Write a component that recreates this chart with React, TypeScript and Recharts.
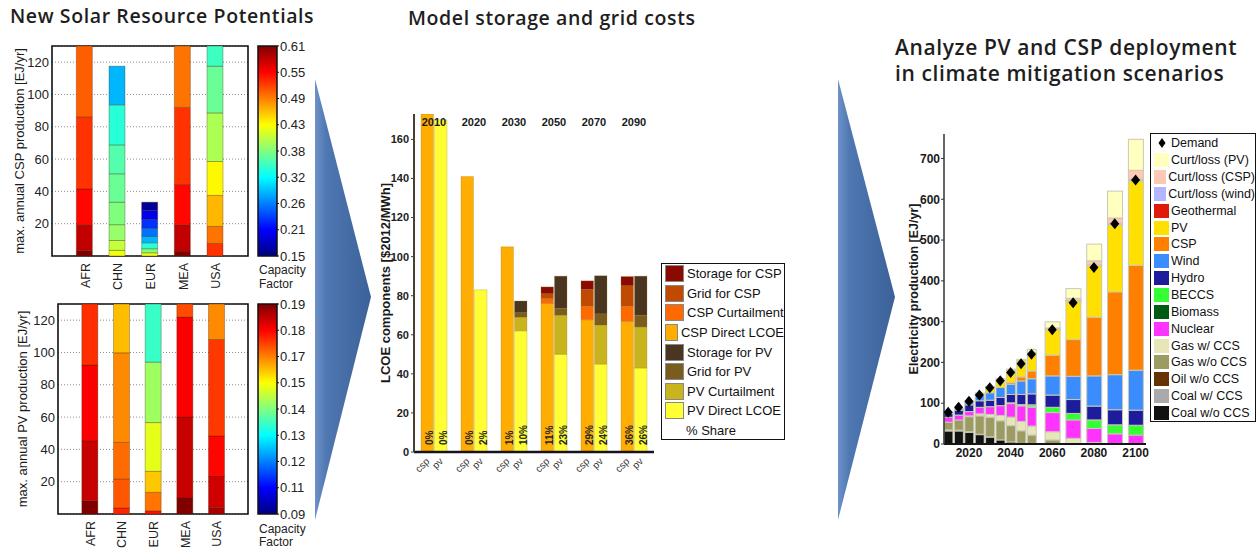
import React from "react";
import {
  BarChart, Bar, XAxis, YAxis, CartesianGrid, Cell, ReferenceArea, ReferenceDot,
  ComposedChart, Line, LabelList,
} from "recharts";

const FONT = "'Liberation Sans', Arial, sans-serif";
const TITLE_FONT = "'Open Sans', 'Noto Sans', sans-serif";

// ---------- left: new solar resource potentials ----------
const REGIONS = ["AFR", "CHN", "EUR", "MEA", "USA"];

// stacked potential per region, bottom -> top [EJ/yr], and the capacity factor of each step
const CSP_STEPS = [
  [3.5, 16, 22, 44.7, 43.8],
  [3.5, 6.1, 9.8, 13.9, 17.6, 17.9, 24.8, 23.9],
  [2, 2.5, 3.7, 3.9, 5.1, 5.4, 5.6, 5.1],
  [3, 16.4, 24.9, 47.7, 38],
  [7.8, 10.5, 19.2, 21, 30.1, 28.9, 12.5],
];
const CSP_CF = [
  [0.61, 0.58, 0.55, 0.53, 0.51],
  [0.43, 0.41, 0.39, 0.38, 0.37, 0.36, 0.34, 0.29],
  [0.43, 0.38, 0.34, 0.29, 0.26, 0.23, 0.2, 0.16],
  [0.61, 0.58, 0.55, 0.53, 0.5],
  [0.53, 0.5, 0.47, 0.44, 0.4, 0.37, 0.35],
];
const CSP_CB_LABELS = ["0.15", "0.21", "0.26", "0.32", "0.38", "0.43", "0.49", "0.55", "0.61"];

const PV_STEPS = [
  [8.2, 37, 47, 37.8],
  [3.7, 17.9, 22.7, 55.5, 30.2],
  [2, 11.4, 13, 30.2, 37.4, 36],
  [9.9, 50.1, 62, 8],
  [4.1, 19.5, 24.7, 59.7, 22],
];
const PV_CF = [
  [0.19, 0.183, 0.178, 0.173],
  [0.174, 0.169, 0.167, 0.164, 0.159],
  [0.176, 0.166, 0.158, 0.15, 0.143, 0.133],
  [0.19, 0.183, 0.178, 0.17],
  [0.186, 0.182, 0.177, 0.172, 0.164],
];
const PV_CB_LABELS = ["0.09", "0.11", "0.12", "0.13", "0.14", "0.15", "0.17", "0.18", "0.19"];
const POT_TICKS = [20, 40, 60, 80, 100, 120];

// ---------- middle: LCOE components ----------
const LCOE_YEARS = ["2010", "2020", "2030", "2050", "2070", "2090"];
const CSP_DIRECT = [180, 141, 105, 76, 67.7, 66.8];
const CSP_CURT = [0, 0, 0, 2.5, 6.9, 7.8];
const CSP_GRID = [0, 0, 0, 2.5, 8.6, 10.5];
const CSP_STORAGE = [0, 0, 0, 3.5, 4.4, 4.7];
const PV_DIRECT = [170, 83, 62, 50, 45, 43];
const PV_CURT = [0, 0, 7, 20, 20, 21];
const PV_GRID = [0, 0, 2.3, 3.5, 5.7, 6];
const PV_STORAGE = [0, 0, 6, 16.5, 19.5, 20];
const CSP_SHARE = ["0%", "0%", "1%", "11%", "29%", "36%"];
const PV_SHARE = ["0%", "2%", "10%", "23%", "24%", "26%"];
const LCOE_TICKS = [0, 20, 40, 60, 80, 100, 120, 140, 160];
const LCOE_MAX = 173;

// ---------- right: electricity production ----------
const GEN_YEARS = [2010, 2015, 2020, 2025, 2030, 2035, 2040, 2045, 2050, 2060, 2070, 2080, 2090, 2100];
const COAL_NO_CCS = [32, 32, 28.5, 23, 17, 10, 5, 1.5, 0, 0, 0, 0, 0, 0];
const COAL_CCS = [0, 0, 0, 0, 0, 0, 0, 0, 0, 0, 0, 0, 0, 0];
const OIL_NO_CCS = [2.5, 2, 1.5, 1, 0.5, 0, 0, 0, 0, 0, 0, 0, 0, 0];
const GAS_NO_CCS = [19, 25, 37, 45, 48, 47, 40, 31, 22, 10, 0, 0, 0, 0];
const GAS_CCS = [0, 0, 2, 5, 7, 13, 21, 23, 22, 20, 14, 4, 0, 0];
const NUCLEAR = [12, 12, 10.5, 16, 19, 24, 33, 38, 46, 47, 45, 34, 25, 22];
const BIOMASS = [0, 0, 0, 0, 0, 0, 1, 1, 1, 0, 0, 0, 0, 0];
const BECCS = [0, 0, 0, 0, 0, 0, 1, 2, 5, 13, 16, 21, 22, 24];
const HYDRO = [10, 12, 16.5, 16, 16, 20, 20.5, 25, 27, 30, 34, 34, 37, 37];
const WIND = [3, 4, 8, 13, 18, 24.5, 25, 33, 37, 47, 57, 74, 86, 98];
const CSP = [0, 0, 0, 0, 0, 0, 4, 10, 19, 51, 90, 144, 203, 257];
const PV = [0, 0, 1, 6, 13, 18, 29, 40, 45, 62, 94, 126, 164, 207];
const GEOTHERMAL = [0, 0, 0, 0, 0, 0, 0, 0, 0, 0, 0, 0, 0, 0];
const CURT_WIND = [0, 0, 0, 0, 0, 0, 0, 0, 0, 1.5, 2, 2, 3, 4];
const CURT_CSP = [0, 0, 0, 0, 0, 0, 0, 0, 0, 3, 5, 10, 14, 22];
const CURT_PV = [0, 0, 0, 0, 3, 4, 4, 3, 8, 15, 24, 41, 66, 76];
const DEMAND = [78, 90, 105, 120, 138, 155, 175, 197, 220, 280, 346, 433, 540, 647];
const GEN_TICKS_X = [2020, 2040, 2060, 2080, 2100];
const GEN_TICKS_Y = [0, 100, 200, 300, 400, 500, 600, 700];

const GEN_SERIES = [
  { key: "coalNo", name: "Coal w/o CCS", values: COAL_NO_CCS, color: "#111111" },
  { key: "coalCcs", name: "Coal w/ CCS", values: COAL_CCS, color: "#aaaaaa" },
  { key: "oil", name: "Oil w/o CCS", values: OIL_NO_CCS, color: "#663300" },
  { key: "gasNo", name: "Gas w/o CCS", values: GAS_NO_CCS, color: "#9c9c62" },
  { key: "gasCcs", name: "Gas w/ CCS", values: GAS_CCS, color: "#e6e6b8" },
  { key: "nuclear", name: "Nuclear", values: NUCLEAR, color: "#ff33ff" },
  { key: "biomass", name: "Biomass", values: BIOMASS, color: "#005a12" },
  { key: "beccs", name: "BECCS", values: BECCS, color: "#33ff33" },
  { key: "hydro", name: "Hydro", values: HYDRO, color: "#1c1c9c" },
  { key: "wind", name: "Wind", values: WIND, color: "#3a8cff" },
  { key: "csp", name: "CSP", values: CSP, color: "#ff8000" },
  { key: "pv", name: "PV", values: PV, color: "#ffe000" },
  { key: "geo", name: "Geothermal", values: GEOTHERMAL, color: "#e01a0a" },
  { key: "curtWind", name: "Curt/loss (wind)", values: CURT_WIND, color: "#b4b4ff" },
  { key: "curtCsp", name: "Curt/loss (CSP)", values: CURT_CSP, color: "#ffc8b4" },
  { key: "curtPv", name: "Curt/loss (PV)", values: CURT_PV, color: "#ffffc0" },
];

const LCOE_SERIES = [
  { key: "cspDirect", name: "CSP Direct LCOE", stack: "csp", color: "#ffad00" },
  { key: "cspCurt", name: "CSP Curtailment", stack: "csp", color: "#ff6a00" },
  { key: "cspGrid", name: "Grid for CSP", stack: "csp", color: "#c04a00" },
  { key: "cspStorage", name: "Storage for CSP", stack: "csp", color: "#8b0a00" },
  { key: "pvDirect", name: "PV Direct LCOE", stack: "pv", color: "#ffff33" },
  { key: "pvCurt", name: "PV Curtailment", stack: "pv", color: "#c9b41e" },
  { key: "pvGrid", name: "Grid for PV", stack: "pv", color: "#7a5c1c" },
  { key: "pvStorage", name: "Storage for PV", stack: "pv", color: "#4a3520" },
];
// legend reads top -> bottom: csp block then pv block, each from storage down to direct
const LCOE_LEGEND = [...LCOE_SERIES.slice(0, 4).reverse(), ...LCOE_SERIES.slice(4).reverse()];

function jet(t: number) {
  const c = (v: number) => Math.round(255 * Math.max(0, Math.min(1, v)));
  return `rgb(${c(1.5 - Math.abs(4 * t - 3))},${c(1.5 - Math.abs(4 * t - 2))},${c(1.5 - Math.abs(4 * t - 1))})`;
}
const JET_STOPS = [0, 0.125, 0.375, 0.625, 0.875, 1];

function AxisTitle({ viewBox, text, shift, size, weight }: any) {
  const x = viewBox.x + shift;
  const y = viewBox.y + viewBox.height / 2;
  return (
    <text x={x} y={y} transform={`rotate(-90 ${x} ${y})`} textAnchor="middle" dominantBaseline="central"
      fontSize={size} fontWeight={weight} fill="#1a1a1a" fontFamily={FONT}>{text}</text>
  );
}

function RegionTick({ x, y, payload }: any) {
  const tx = x + 5;
  const ty = y + 7;
  return (
    <text x={tx} y={ty} transform={`rotate(-90 ${tx} ${ty})`} textAnchor="end" fontSize={12.5} fill="#222" fontFamily={FONT}>
      {REGIONS[payload.value - 1]}
    </text>
  );
}

function PotentialChart({ steps, cf, cfMin, cfMax, yLabel, yWidth, labelX }: any) {
  const nSeg = Math.max(...steps.map((s: number[]) => s.length));
  const rows = REGIONS.map((_, i) => {
    const row: any = { x: i + 1 };
    steps[i].forEach((h: number, k: number) => (row["s" + k] = h));
    return row;
  });
  const keys = Array.from({ length: nSeg }, (_, k) => k);
  return (
    <BarChart width={260} height={300} data={rows} margin={{ top: 46, right: 12, bottom: 4, left: 0 }}>
      <CartesianGrid vertical={false} stroke="#8a8a8a" strokeDasharray="1 2" />
      <XAxis type="number" dataKey="x" domain={[0, 6]} ticks={[1, 2, 3, 4, 5]} height={40}
        axisLine={false} tickLine={false} tickSize={0} tickMargin={0} tick={<RegionTick />} />
      <YAxis type="number" domain={[0, 130]} allowDataOverflow ticks={POT_TICKS} width={yWidth}
        axisLine={false} tickLine={false} tickSize={0} tickMargin={3}
        tick={{ fontSize: 13, fill: "#222", fontFamily: FONT }}
        label={<AxisTitle text={yLabel} shift={labelX} size={13} weight={400} />} />
      {keys.map((k) => (
        <Bar key={k} dataKey={"s" + k} stackId="pot" barSize={16} isAnimationActive={false}
          stroke="rgba(60,30,0,0.4)" strokeWidth={0.8}>
          {rows.map((_, i) => (
            <Cell key={i} fill={cf[i][k] != null ? jet((cf[i][k] - cfMin) / (cfMax - cfMin)) : "none"} />
          ))}
        </Bar>
      ))}
      <ReferenceArea x1={0} x2={6} y1={0} y2={130} fill="none" stroke="#111" strokeWidth={1.6} />
    </BarChart>
  );
}

function ColorBar({ labels, gradId }: any) {
  const n = labels.length - 1;
  return (
    <BarChart width={60} height={300} data={[{ k: "cb", v: n }]} margin={{ top: 46, right: 0, bottom: 44, left: 8 }}
      barCategoryGap={0}>
      <defs>
        <linearGradient id={gradId} x1="0" y1="1" x2="0" y2="0">
          {JET_STOPS.map((t) => <stop key={t} offset={t} stopColor={jet(t)} />)}
        </linearGradient>
      </defs>
      <XAxis dataKey="k" hide />
      <YAxis orientation="right" domain={[0, n]} ticks={labels.map((_: string, i: number) => i)} width={33}
        tickFormatter={(i: number) => labels[i]} axisLine={false} tickLine={{ stroke: "#111" }}
        tickSize={2} tickMargin={1} tick={{ fontSize: 13, fill: "#222", fontFamily: FONT }} />
      <Bar dataKey="v" fill={`url(#${gradId})`} stroke="#111" strokeWidth={1.5} isAnimationActive={false} />
    </BarChart>
  );
}

function CspPvTick({ x, y }: any) {
  return (
    <g fontFamily={FONT} fontSize={10} fill="#3a3a3a">
      {[["csp", -6.75], ["pv", 6.75]].map(([t, d]: any) => {
        const tx = x + d + 3;
        const ty = y + 10;
        return <text key={t} x={tx} y={ty} textAnchor="end" transform={`rotate(-45 ${tx} ${ty})`}>{t}</text>;
      })}
    </g>
  );
}

function ShareLabel(p: any) {
  const x = p.x + p.width / 2 + 6;
  const y = p.y + p.height - 7;
  return (
    <text x={x} y={y} transform={`rotate(-90 ${x} ${y})`} fontSize={10} fontWeight={700} fill="#262626" fontFamily={FONT}>
      {p.value}
    </text>
  );
}

function LcoeChart() {
  const rows = LCOE_YEARS.map((year, i) => ({
    year,
    cspDirect: CSP_DIRECT[i], cspCurt: CSP_CURT[i], cspGrid: CSP_GRID[i], cspStorage: CSP_STORAGE[i],
    pvDirect: PV_DIRECT[i], pvCurt: PV_CURT[i], pvGrid: PV_GRID[i], pvStorage: PV_STORAGE[i],
    cspShare: CSP_SHARE[i], pvShare: PV_SHARE[i],
  }));
  return (
    <BarChart width={290} height={390} data={rows} margin={{ top: 14, right: 6, bottom: 4, left: 0 }} barGap={1}>
      <XAxis dataKey="year" height={34} interval={0} axisLine={{ stroke: "#151515", strokeWidth: 2.5 }}
        tickLine={false} tickSize={0} tickMargin={0} tick={<CspPvTick />} />
      <YAxis domain={[0, LCOE_MAX]} allowDataOverflow ticks={LCOE_TICKS} width={44}
        axisLine={{ stroke: "#4a4030", strokeWidth: 2 }} tickLine={{ stroke: "#4a4030" }} tickSize={3} tickMargin={2}
        tick={{ fontSize: 11, fontWeight: 700, fill: "#222", fontFamily: FONT }}
        label={<AxisTitle text="LCOE components [$2012/MWh]" shift={15} size={13} weight={700} />} />
      {LCOE_SERIES.map((s) => (
        <Bar key={s.key} dataKey={s.key} stackId={s.stack} fill={s.color} barSize={12.5} isAnimationActive={false}
          stroke="rgba(150,120,40,0.45)" strokeWidth={0.6}>
          {s.key === "cspDirect" && <LabelList dataKey="cspShare" content={<ShareLabel />} />}
          {s.key === "pvDirect" && <LabelList dataKey="pvShare" content={<ShareLabel />} />}
        </Bar>
      ))}
      {LCOE_YEARS.map((year) => (
        <ReferenceDot key={year} x={year} y={LCOE_MAX} r={0} stroke="none" fill="none"
          label={{ value: year, position: "bottom", offset: 4, fontSize: 11, fontWeight: 700, fill: "#1a1a1a",
            fontFamily: FONT }} />
      ))}
    </BarChart>
  );
}

function GenBar(p: any) {
  const { x, y, width, height, fill, payload } = p;
  if (!height || height <= 0) return <g />;
  const w = payload.year >= 2060 ? 15 : width;
  return <rect x={x + width / 2 - w / 2} y={y} width={w} height={height} fill={fill} stroke="#c9c9b5" strokeWidth={1} />;
}

function Diamond({ cx, cy }: any) {
  if (cx == null || cy == null) return <g />;
  return <path d={`M${cx},${cy - 5.5}L${cx + 4.5},${cy}L${cx},${cy + 5.5}L${cx - 4.5},${cy}Z`} fill="#000" />;
}

function GenerationChart() {
  const rows = GEN_YEARS.map((year, i) => {
    const r: any = { year, demand: DEMAND[i] };
    GEN_SERIES.forEach((s) => (r[s.key] = s.values[i]));
    return r;
  });
  return (
    <ComposedChart width={250} height={350} data={rows} margin={{ top: 14, right: 4, bottom: 4, left: 0 }}>
      <XAxis type="number" dataKey="year" domain={[2008, 2105]} ticks={GEN_TICKS_X} height={22}
        axisLine={{ stroke: "#151515", strokeWidth: 2 }} tickLine={false} tickSize={0} tickMargin={4}
        tick={{ fontSize: 12, fontWeight: 700, fill: "#1a1a1a", fontFamily: FONT }} />
      <YAxis domain={[0, 760]} allowDataOverflow ticks={GEN_TICKS_Y} width={44}
        axisLine={{ stroke: "#333", strokeWidth: 1.5 }} tickLine={{ stroke: "#333" }} tickSize={3} tickMargin={1}
        tick={{ fontSize: 12, fontWeight: 700, fill: "#1a1a1a", fontFamily: FONT }}
        label={<AxisTitle text="Electricity production [EJ/yr]" shift={14} size={12.5} weight={700} />} />
      {GEN_SERIES.map((s) => (
        <Bar key={s.key} dataKey={s.key} stackId="gen" fill={s.color} barSize={9} shape={<GenBar />}
          isAnimationActive={false} />
      ))}
      <Line dataKey="demand" stroke="none" dot={<Diamond />} activeDot={false} isAnimationActive={false} />
    </ComposedChart>
  );
}

const abs = (left: number, top: number): React.CSSProperties => ({ position: "absolute", left, top });

function Title({ left, top, size = 19.5, children }: any) {
  return (
    <div style={{ ...abs(left, top), fontFamily: TITLE_FONT, fontWeight: 600, fontSize: size, lineHeight: "20px",
      letterSpacing: 0.6, color: "#1e1e1e", whiteSpace: "nowrap" }}>{children}</div>
  );
}

function SmallText({ left, top, children }: any) {
  return <div style={{ ...abs(left, top), fontSize: 12, lineHeight: "14px", color: "#222", whiteSpace: "nowrap" }}>{children}</div>;
}

export default function App() {
  return (
    <div style={{ position: "absolute", left: 0, top: 0, width: 1258, height: 548, background: "#fff",
      overflow: "hidden", fontFamily: FONT }}>
      <svg width={1258} height={548} style={abs(0, 0)}>
        <defs>
          <linearGradient id="arrowBlue" x1="0" y1="0" x2="1" y2="0">
            <stop offset="0" stopColor="#6d92c8" />
            <stop offset="0.2" stopColor="#4f77b1" />
            <stop offset="1" stopColor="#3c6199" />
          </linearGradient>
        </defs>
        <polygon points="315,79 371,297 315,520" fill="url(#arrowBlue)" />
        <polygon points="838,79 895,297 838,520" fill="url(#arrowBlue)" />
      </svg>

      <Title left={10} top={6}>New Solar Resource Potentials</Title>
      <Title left={408} top={8}>Model storage and grid costs</Title>
      <Title left={895} top={37} size={21}>Analyze PV and CSP deployment</Title>
      <Title left={895} top={63} size={21}>in climate mitigation scenarios</Title>

      <div style={abs(0, 0)}>
        <PotentialChart steps={CSP_STEPS} cf={CSP_CF} cfMin={0.15} cfMax={0.61} yWidth={52} labelX={19}
          yLabel="max. annual CSP production [EJ/yr]" />
      </div>
      <div style={abs(250, 0)}><ColorBar labels={CSP_CB_LABELS} gradId="jetCsp" /></div>
      <SmallText left={259} top={263}>Capacity</SmallText>
      <SmallText left={259} top={277}>Factor</SmallText>

      <div style={abs(0, 258)}>
        <PotentialChart steps={PV_STEPS} cf={PV_CF} cfMin={0.09} cfMax={0.19} yWidth={58} labelX={22}
          yLabel="max. annual PV production [EJ/yr]" />
      </div>
      <div style={abs(250, 258)}><ColorBar labels={PV_CB_LABELS} gradId="jetPv" /></div>
      <SmallText left={259} top={522}>Capacity</SmallText>
      <SmallText left={259} top={535}>Factor</SmallText>

      <div style={abs(370, 100)}><LcoeChart /></div>
      <div style={{ ...abs(661, 263), width: 124, height: 177, border: "1.5px solid #111", boxSizing: "border-box",
        background: "#fff" }}>
        {LCOE_LEGEND.map((s) => (
          <div key={s.key} style={{ display: "flex", alignItems: "center", height: 19.6, marginLeft: 3 }}>
            <span style={{ width: 17, height: 15, background: s.color, border: "0.5px solid #888", marginRight: 3 }} />
            <span style={{ fontSize: 13, color: "#111", whiteSpace: "nowrap" }}>{s.name}</span>
          </div>
        ))}
        <div style={{ height: 19.6, marginLeft: 24, fontSize: 13, lineHeight: "19.6px", color: "#111" }}>% Share</div>
      </div>

      <div style={abs(900, 120)}><GenerationChart /></div>
      <div style={{ ...abs(1150, 133), width: 106, height: 289, border: "1px solid #111", boxSizing: "border-box",
        background: "#fff", paddingTop: 1 }}>
        <div style={{ display: "flex", alignItems: "center", height: 16.85 }}>
          <svg width={18} height={14} style={{ marginLeft: 2 }}>
            <path d="M9,2L12.5,7L9,12L5.5,7Z" fill="#000" />
          </svg>
          <span style={{ fontSize: 12.5, color: "#111" }}>Demand</span>
        </div>
        {[...GEN_SERIES].reverse().map((s) => (
          <div key={s.key} style={{ display: "flex", alignItems: "center", height: 16.85 }}>
            <span style={{ width: 15, height: 14, background: s.color, marginLeft: 3, marginRight: 2 }} />
            <span style={{ fontSize: 12.5, color: "#111", whiteSpace: "nowrap" }}>{s.name}</span>
          </div>
        ))}
      </div>
    </div>
  );
}
